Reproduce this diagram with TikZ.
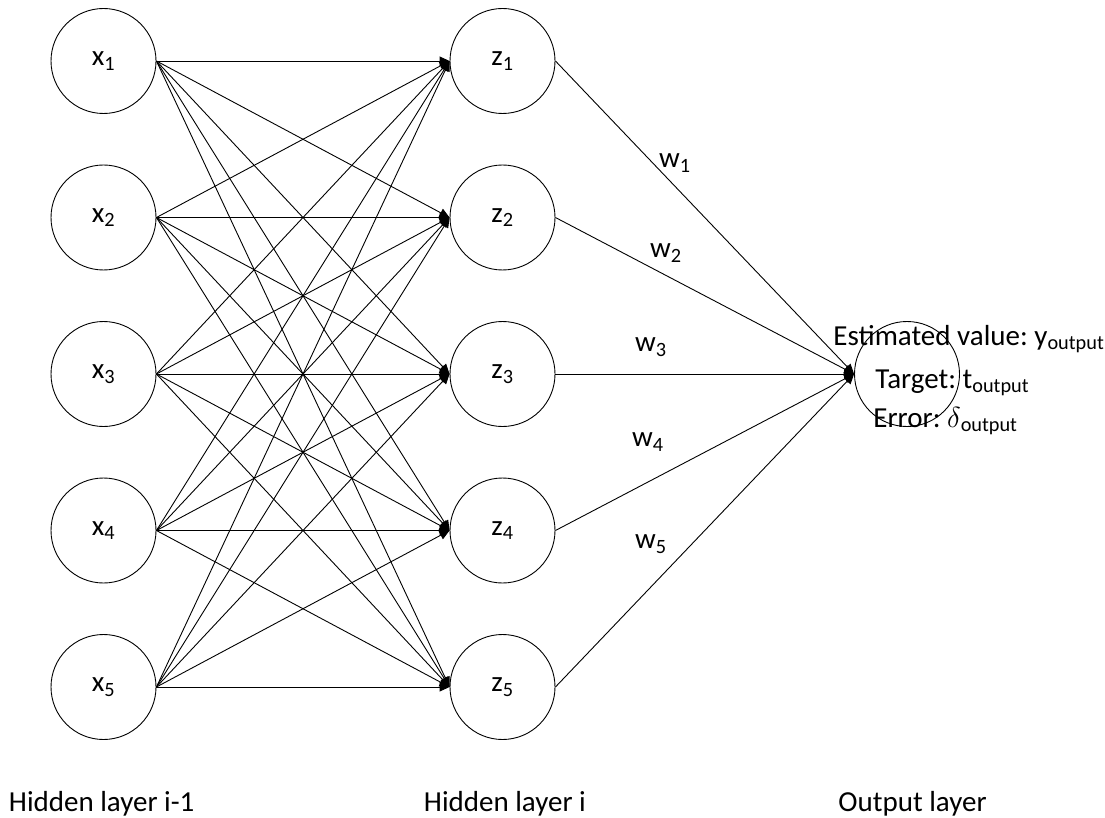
\RequirePackage{fix-cm}
\documentclass[tikz,border=0pt]{standalone}
\usepackage{fontspec}
\setmainfont{Carlito}
\usetikzlibrary{arrows.meta}
\frenchspacing

\tikzset{
  neuron/.style={draw, circle, minimum size=105pt, inner sep=0pt},
  caption/.style={anchor=base west, inner sep=0pt}
}

\begin{document}
\begin{tikzpicture}[x=1pt, y=-1pt, font=\fontsize{29}{35}\selectfont,
    line width=0.9pt, >={Triangle[length=10pt,width=9pt]}, node distance=156.5pt]
  \useasboundingbox (0,0) rectangle (1105,818);

  % layer i-1
  \node [neuron] (x1) at (103.5,61) {x\textsubscript{1}};
  \node [neuron] (x2) [below of=x1] {x\textsubscript{2}};
  \node [neuron] (x3) [below of=x2] {x\textsubscript{3}};
  \node [neuron] (x4) [below of=x3] {x\textsubscript{4}};
  \node [neuron] (x5) [below of=x4] {x\textsubscript{5}};

  % layer i
  \node [neuron] (z1) [right of=x1, node distance=399pt] {z\textsubscript{1}};
  \node [neuron] (z2) [right of=x2, node distance=399pt] {z\textsubscript{2}};
  \node [neuron] (z3) [right of=x3, node distance=399pt] {z\textsubscript{3}};
  \node [neuron] (z4) [right of=x4, node distance=399pt] {z\textsubscript{4}};
  \node [neuron] (z5) [right of=x5, node distance=399pt] {z\textsubscript{5}};

  % output
  \node [neuron] (out) [right of=z3, node distance=404.5pt] {};

  \foreach \i in {1,...,5}
    \foreach \j in {1,...,5}
      \draw [->] (x\i.east) -- (z\j.west);
  \foreach \j in {1,...,5}
    \draw [->] (z\j.east) -- (out.west);

  % weights
  \node [] (w1) at (675,163) {w\textsubscript{1}};
  \node [] (w2) at (666,253) {w\textsubscript{2}};
  \node [] (w3) at (651,347) {w\textsubscript{3}};
  \node [] (w4) at (648,442) {w\textsubscript{4}};
  \node [] (w5) at (651,544) {w\textsubscript{5}};

  \node [caption] (est) at (833,345) {Estimated value: y\textsubscript{output}};
  \node [caption] (tgt) at (875,388) {Target: t\textsubscript{output}};
  \node [caption] (err) at (873,427) {Error: $\delta$\textsubscript{output}};

  \node [caption] (l1) at (8.5,811) {Hidden layer i-1};
  \node [caption] (l2) at (423.5,811) {Hidden layer i};
  \node [caption] (l3) at (838,811) {Output layer};
\end{tikzpicture}
\end{document}
